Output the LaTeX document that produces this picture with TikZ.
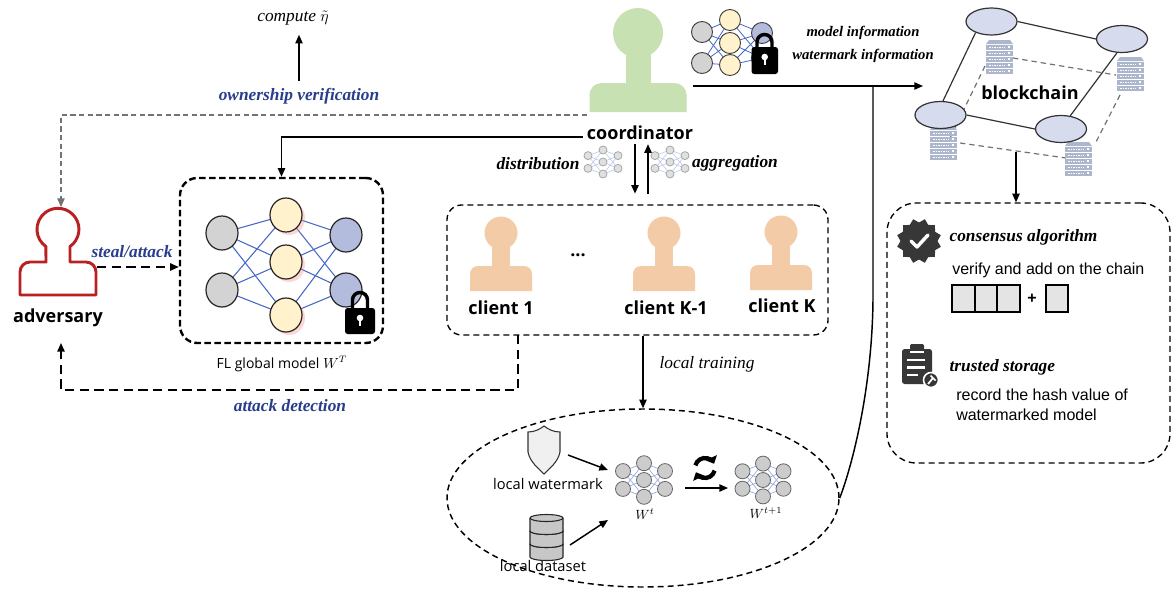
\documentclass[tikz,border=0pt]{standalone}
\usepackage{fontspec}
\setmainfont{Liberation Serif}
\newfontfamily\hsans{Open Sans}
\newfontfamily\asans{Liberation Sans}
\usetikzlibrary{arrows.meta,shapes.geometric,calc}

\definecolor{vblue}{RGB}{40,62,140}
\definecolor{coordgreen}{RGB}{200,225,178}
\definecolor{clientpeach}{RGB}{243,204,167}
\definecolor{advred}{RGB}{185,32,32}
\definecolor{nngray}{RGB}{211,211,211}
\definecolor{nnyellow}{RGB}{255,242,204}
\definecolor{nnblue}{RGB}{180,188,222}
\definecolor{nnline}{RGB}{70,105,200}
\definecolor{nnlight}{RGB}{150,172,222}
\definecolor{bcfill}{RGB}{214,219,238}
\definecolor{srvfill}{RGB}{172,183,206}
\definecolor{icondark}{RGB}{55,55,55}
\definecolor{blockfill}{RGB}{228,228,228}

% person silhouette: colour, cx, head cy, head r, neck half width, neck bottom, body half width, body bottom, corner r
\newcommand\personfill[9]{%
  \fill[#1] (#2,#3) circle[radius=#4];
  \fill[#1] (#2-#5,#3) rectangle (#2+#5,#6+1);
  \fill[#1] (#2-#7,#8) -- (#2-#7,#6+#9) arc[start angle=180,end angle=270,radius=#9]
     -- (#2+#7-#9,#6) arc[start angle=270,end angle=360,radius=#9] -- (#2+#7,#8) -- cycle;
}

% server rack: top-left corner
\newcommand\serverrack[2]{%
  \fill[srvfill] (#1+3,#2) -- (#1+24,#2) -- (#1+27,#2+4) -- (#1,#2+4) -- cycle;
  \foreach \k in {0,...,4}{%
    \fill[srvfill] (#1,#2+4.6+\k*6) rectangle (#1+27,#2+9.8+\k*6);
    \draw[white,line width=0.7pt,dash pattern=on 1.3pt off 0.6pt] (#1+3,#2+7.2+\k*6) -- (#1+19,#2+7.2+\k*6);
    \fill[white] (#1+21.5,#2+6.4+\k*6) rectangle (#1+24,#2+8.2+\k*6);
  }
}

% small three-layer network: cx, cy, column step, node radius, fill, outline, line colour, line width
\newcommand\smallnet[8]{%
  \foreach \a in {-0.5,0.5}{%
    \foreach \b in {-1,0,1}{%
      \draw[#7,line width=#8] (#1-#3,#2+\a*#3*0.85) -- (#1,#2+\b*#3*0.8);
      \draw[#7,line width=#8] (#1+#3,#2+\a*#3*0.85) -- (#1,#2+\b*#3*0.8);
    }}
  \foreach \a in {-0.5,0.5}{%
    \filldraw[fill=#5,draw=#6,line width=0.6pt] (#1-#3,#2+\a*#3*0.85) circle[radius=#4];
    \filldraw[fill=#5,draw=#6,line width=0.6pt] (#1+#3,#2+\a*#3*0.85) circle[radius=#4];}
  \foreach \b in {-1,0,1}{%
    \filldraw[fill=#5,draw=#6,line width=0.6pt] (#1,#2+\b*#3*0.8) circle[radius=#4];}
}

\tikzset{
  boldsans/.style={font=\hsans\bfseries\fontsize{13.5}{16}\selectfont,inner sep=1pt},
  plainsans/.style={font=\hsans\fontsize{10.5}{13}\selectfont,inner sep=1pt},
  arialtxt/.style={font=\asans\fontsize{12}{15}\selectfont,inner sep=0pt,align=left},
  bi/.style={font=\bfseries\itshape\fontsize{13}{15}\selectfont,inner sep=1pt},
  bismall/.style={font=\bfseries\itshape\fontsize{11}{13}\selectfont,inner sep=1pt},
  bluebi/.style={bi,text=vblue},
  itx/.style={font=\itshape\fontsize{13}{15}\selectfont,inner sep=1pt},
  arr/.style={-{Triangle[length=6.5pt,width=5.5pt]}},
  solidline/.style={line width=1.1pt},
  graydash/.style={draw=black!55,line width=0.9pt,dash pattern=on 4pt off 2.5pt},
  longdash/.style={line width=1.2pt,dash pattern=on 7pt off 4pt},
  flframe/.style={draw,line width=1.8pt,dash pattern=on 5pt off 2.5pt,rounded corners=13pt,inner sep=0pt},
  thinframe/.style={draw,line width=1pt,dash pattern=on 4.5pt off 3pt,inner sep=0pt},
  bcnode/.style={ellipse,draw=black!80,fill=bcfill,line width=0.9pt,inner sep=0pt,
                 minimum width=51*0.75pt,minimum height=27*0.75pt},
}

\begin{document}
\begin{tikzpicture}[x=0.75pt,y=-0.75pt]
\useasboundingbox (0,0) rectangle (1174,589);
\fill[white] (0,0) rectangle (1174,589);

% ---------- frames
\node[flframe,minimum width=203*0.75pt,minimum height=165*0.75pt] (flbox) at (281.5,260.5) {};
\node[thinframe,rounded corners=11pt,minimum width=381*0.75pt,minimum height=130*0.75pt] (clbox) at (637.5,270) {};
\node[thinframe,rounded corners=22pt,minimum width=283*0.75pt,minimum height=260*0.75pt] (rbox) at (1028.5,333) {};
\node[thinframe,ellipse,line width=1.1pt,minimum width=392*0.75pt,minimum height=178*0.75pt] (ell) at (643,498) {};

% ---------- labels
\node[itx,inner sep=7pt] (compute) at (293,18) {compute $\tilde{\eta}$};
\node[bluebi,inner sep=5pt] (ownlbl) at (299,96) {ownership verification};
\node[bluebi] (steallbl) at (132,252) {steal/attack};
\node[bluebi] (atklbl) at (290,406) {attack detection};
\node[boldsans,inner sep=3pt] (coordlbl) at (640,133) {coordinator};
\node[boldsans] (advlbl) at (58,318) {adversary};
\node[bi] (distlbl) at (538,164) {distribution};
\node[bi] (agglbl) at (735,163) {aggregation};
\node[bismall] (minfo) at (863,33) {model information};
\node[bismall] (winfo) at (863,56) {watermark information};
\node[boldsans] (bclbl) at (1030,93) {blockchain};
\node[plainsans] (fllbl) at (282,364) {FL global model $W^T$};
\node[boldsans] (c1lbl) at (501,308) {client 1};
\node[boldsans] (cklbl) at (666,308) {client K-1};
\node[boldsans] (cKlbl) at (782,306) {client K};
\node[boldsans] (dots) at (578,255) {...};
\node[itx] (ltlbl) at (707,364) {local training};
\node[plainsans,font=\hsans\fontsize{11}{13}\selectfont] (lwlbl) at (548,484) {local watermark};
\node[plainsans,font=\hsans\fontsize{11}{13}\selectfont] (ldlbl) at (543,566) {local dataset};
\node[inner sep=1pt,font=\fontsize{10}{12}\selectfont] (wtlbl) at (645,514) {$W^t$};
\node[inner sep=1pt,font=\fontsize{10}{12}\selectfont] (wt1lbl) at (766,513) {$W^{t+1}$};
\node[bi,anchor=west] (conslbl) at (948,237) {consensus algorithm};
\node[arialtxt,anchor=west] (verlbl) at (952,270) {verify and add on the chain};
\node[bi,anchor=west] (trustlbl) at (948,367) {trusted storage};
\node[arialtxt,anchor=west,font=\asans\fontsize{12}{15}\selectfont] (reclbl) at (956,405)
   {record the hash value of\\watermarked model};

% ---------- connector end points
\coordinate (coordL) at (587,115);
\coordinate (coordR) at (693,86);
\coordinate (advtop) at (61,207);
\coordinate (advR) at (97,267);
\coordinate (advbot) at (61,343);
\coordinate (atkS) at (518,335);
\coordinate (atkturn) at (518,390);
\coordinate (bcin) at (923,86);
\coordinate (bcout) at (1016,152);

% ---------- connectors
\draw[graydash,arr] (coordL) -| (advtop);
\draw[solidline,arr] ([yshift=-3pt]coordlbl.west) -| (flbox.north);
\draw[solidline,arr] (ownlbl.north) -- (ownlbl.north |- compute.south);
\draw[longdash,arr] (advR) -- (advR -| flbox.west);
\draw[longdash,arr] (atkS) -- (atkturn) -| (advbot);
\draw[solidline,arr] (coordlbl.south -| 635,0) -- (clbox.north -| 635,0) [shorten >=8pt];
\draw[solidline,arr] (clbox.north -| 648,0) [shorten <=8pt] -- (coordlbl.south -| 648,0);
\draw[solidline,arr] (clbox.south -| ell.north) -- (ell.north);
\draw[solidline,arr] (coordR) -- (bcin);
\draw[solidline] (ell.east) .. controls (852,466) and (872,390) .. (873,300) -- (coordR -| 873,0);
\draw[solidline,arr] (bcout) -- (bcout |- rbox.north);

% ---------- coordinator and clients
\personfill{coordgreen}{638}{33}{25}{12.5}{83}{48.5}{112}{12}
\personfill{clientpeach}{501}{233}{16.5}{9}{266}{31}{291}{8}
\personfill{clientpeach}{664}{233}{16.5}{9}{266}{31}{291}{8}
\personfill{clientpeach}{781}{232}{16.5}{9}{265}{31}{290}{8}

% ---------- adversary outline
\draw[advred,line width=2.2pt,line join=round]
  (70,246.5) arc[start angle=55,end angle=-235,radius=21]
  -- (46,262) -- (30,262) arc[start angle=270,end angle=180,radius=10]
  -- (20,295) -- (96,295) -- (96,272) arc[start angle=0,end angle=-90,radius=10]
  -- (70,262) -- cycle;

% ---------- FL global model network
\foreach \ly in {233,290}{\foreach \my in {215,262,315}{\draw[nnline,line width=0.8pt] (222,\ly) -- (286,\my);}}
\foreach \my in {215,262,315}{\foreach \ry in {235,290}{\draw[nnline,line width=0.8pt] (286,\my) -- (346,\ry);}}
\foreach \my in {215,262,315}{\fill[red!45,opacity=0.35] (289,\my+3) ellipse[x radius=16,y radius=17];}
\foreach \ly in {233,290}{\filldraw[fill=nngray,draw=black!85,line width=0.9pt] (222,\ly) ellipse[x radius=16,y radius=17];}
\foreach \my in {215,262,315}{\filldraw[fill=nnyellow,draw=black!85,line width=0.9pt] (286,\my) ellipse[x radius=16,y radius=17];}
\foreach \ry in {235,290}{\filldraw[fill=nnblue,draw=black!85,line width=0.9pt] (346,\ry) ellipse[x radius=16,y radius=17];}
% lock
\draw[line width=2.6pt] (352.5,310) -- (352.5,300) arc[start angle=180,end angle=360,radius=7.5] -- (367.5,310);
\fill[black,rounded corners=2pt] (345,308) rectangle (375,334);
\fill[white] (360,318) circle[radius=3.3];
\fill[white] (359,318) rectangle (361,326);

% ---------- locked network beside the coordinator
\foreach \ly in {32,63}{\foreach \my in {20,43,65}{\draw[nnline,line width=0.6pt] (702,\ly) -- (730,\my);}}
\foreach \my in {20,43,65}{\foreach \ry in {33,58}{\draw[nnline,line width=0.6pt] (730,\my) -- (762,\ry);}}
\foreach \ly in {32,63}{\filldraw[fill=nngray,draw=black!75,line width=0.7pt] (702,\ly) circle[radius=10.5];}
\foreach \my in {20,43,65}{\filldraw[fill=nnyellow,draw=black!75,line width=0.7pt] (730,\my) circle[radius=10.5];}
\foreach \ry in {33,58}{\filldraw[fill=nnblue,draw=black!75,line width=0.7pt] (762,\ry) circle[radius=10.5];}
\draw[line width=2.6pt] (757,49) -- (757,42) arc[start angle=180,end angle=360,radius=7.5] -- (772,49);
\fill[black,rounded corners=2pt] (751.5,47) rectangle (778,74);
\fill[white] (764.7,57) circle[radius=3.3];
\fill[white] (763.7,57) rectangle (765.7,65);

% ---------- tiny networks for distribution / aggregation
\smallnet{603}{162}{15}{4}{black!12}{black!35}{nnlight!70}{0.4pt}
\smallnet{670}{162}{15}{4}{black!12}{black!35}{nnlight!70}{0.4pt}

% ---------- blockchain
\draw[black!55,line width=0.9pt,dash pattern=on 4pt off 3pt] (1013,58) -- (1116,75);
\draw[black!55,line width=0.9pt,dash pattern=on 4pt off 3pt] (985,66) -- (950,138);
\draw[black!55,line width=0.9pt,dash pattern=on 4pt off 3pt] (1120,95) -- (1096,142);
\draw[black!55,line width=0.9pt,dash pattern=on 4pt off 3pt] (960,143) -- (1066,158);
\serverrack{986}{40}
\serverrack{1117}{57}
\serverrack{930}{126}
\serverrack{1065}{142}
\node[bcnode] (bTL) at (991.5,21.5) {};
\node[bcnode] (bTR) at (1122,39) {};
\node[bcnode] (bL) at (940.5,115) {};
\node[bcnode] (bB) at (1061,129) {};
\draw[black!80,line width=0.9pt] (bTL.east) -- (bTR.west);
\draw[black!80,line width=0.9pt] (bTL.215) -- (bL.80);
\draw[black!80,line width=0.9pt] (bTR.250) -- (bB.55);
\draw[black!80,line width=0.9pt] (bL.east) -- (bB.west);

% ---------- consensus and storage icons
\node[star,star points=12,star point ratio=0.82,fill=icondark,minimum size=37*0.75pt,inner sep=0pt] (badge) at (919,241) {};
\draw[white,line width=2.6pt,line cap=round,line join=round] (911,241) -- (917,247) -- (928,235);
\draw[line width=0.8pt,fill=blockfill] (952,285) rectangle (1020,312);
\draw[line width=1.6pt] (974.7,285) -- (974.7,312);
\draw[line width=1.6pt] (997.3,285) -- (997.3,312);
\node[font=\asans\bfseries\fontsize{12}{14}\selectfont,inner sep=0pt] (plus) at (1032,299) {+};
\draw[line width=0.8pt,fill=blockfill] (1046,285) rectangle (1068,312);

\fill[icondark,rounded corners=2pt] (902,349) rectangle (932,384);
\fill[icondark,rounded corners=1pt] (910,344) rectangle (924,352);
\draw[white,line width=0.8pt] (910,352) -- (924,352);
\draw[white,line width=2pt] (907,360) -- (925,360);
\draw[white,line width=2pt] (907,367.5) -- (925,367.5);
\draw[white,line width=2pt] (907,375) -- (918,375);
\filldraw[fill=icondark,draw=white,line width=1.2pt] (931,380) circle[radius=7.5];
\draw[white,line width=1.3pt] (928,384) -- (933,378);
\draw[white,line width=1.3pt] (930.5,375.5) -- (935.5,380.5);

% ---------- local training
\fill[black!6] (528,432) -- (528,452) .. controls (530,462) and (538,468) .. (544,474)
   .. controls (550,468) and (558,462) .. (560,452) -- (560,432)
   .. controls (553,432) and (548,429) .. (544,426) .. controls (540,429) and (535,432) .. (528,432) -- cycle;
\draw[black!80,line width=0.8pt] (528,432) -- (528,452) .. controls (530,462) and (538,468) .. (544,474)
   .. controls (550,468) and (558,462) .. (560,452) -- (560,432)
   .. controls (553,432) and (548,429) .. (544,426) .. controls (540,429) and (535,432) .. (528,432) -- cycle;
\foreach \t in {544,531,518}{%
  \filldraw[fill=black!22,draw=black!85,line width=0.8pt] (530,\t) -- (530,\t+13)
     arc[start angle=180,end angle=0,x radius=16.5,y radius=3.5] -- (563,\t)
     arc[start angle=0,end angle=-180,x radius=16.5,y radius=3.5] -- cycle;
  \draw[black!85,line width=0.8pt] (530,\t) arc[start angle=180,end angle=0,x radius=16.5,y radius=3.5];
}
\smallnet{644}{480}{21}{7.5}{black!20}{black!60}{nnlight}{0.5pt}
\smallnet{763}{480}{20.5}{7.5}{black!20}{black!60}{nnlight}{0.5pt}
\coordinate (shieldR) at (568,455);
\coordinate (dbR) at (570,545);
\coordinate (wtin1) at (608,470);
\coordinate (wtin2) at (608,520);
\coordinate (wtout) at (685,488);
\coordinate (wt1in) at (728,488);
\draw[solidline,arr] (shieldR) -- (wtin1);
\draw[solidline,arr] (dbR) -- (wtin2);
\draw[solidline,arr] (wtout) -- (wt1in);
% refresh symbol
\draw[line width=3.2pt,-{Triangle[length=5pt,width=9pt]}] (705,468) ++(195:10) arc[start angle=195,end angle=335,radius=10];
\draw[line width=3.2pt,-{Triangle[length=5pt,width=9pt]}] (705,468) ++(15:10) arc[start angle=15,end angle=155,radius=10];
\end{tikzpicture}
\end{document}
